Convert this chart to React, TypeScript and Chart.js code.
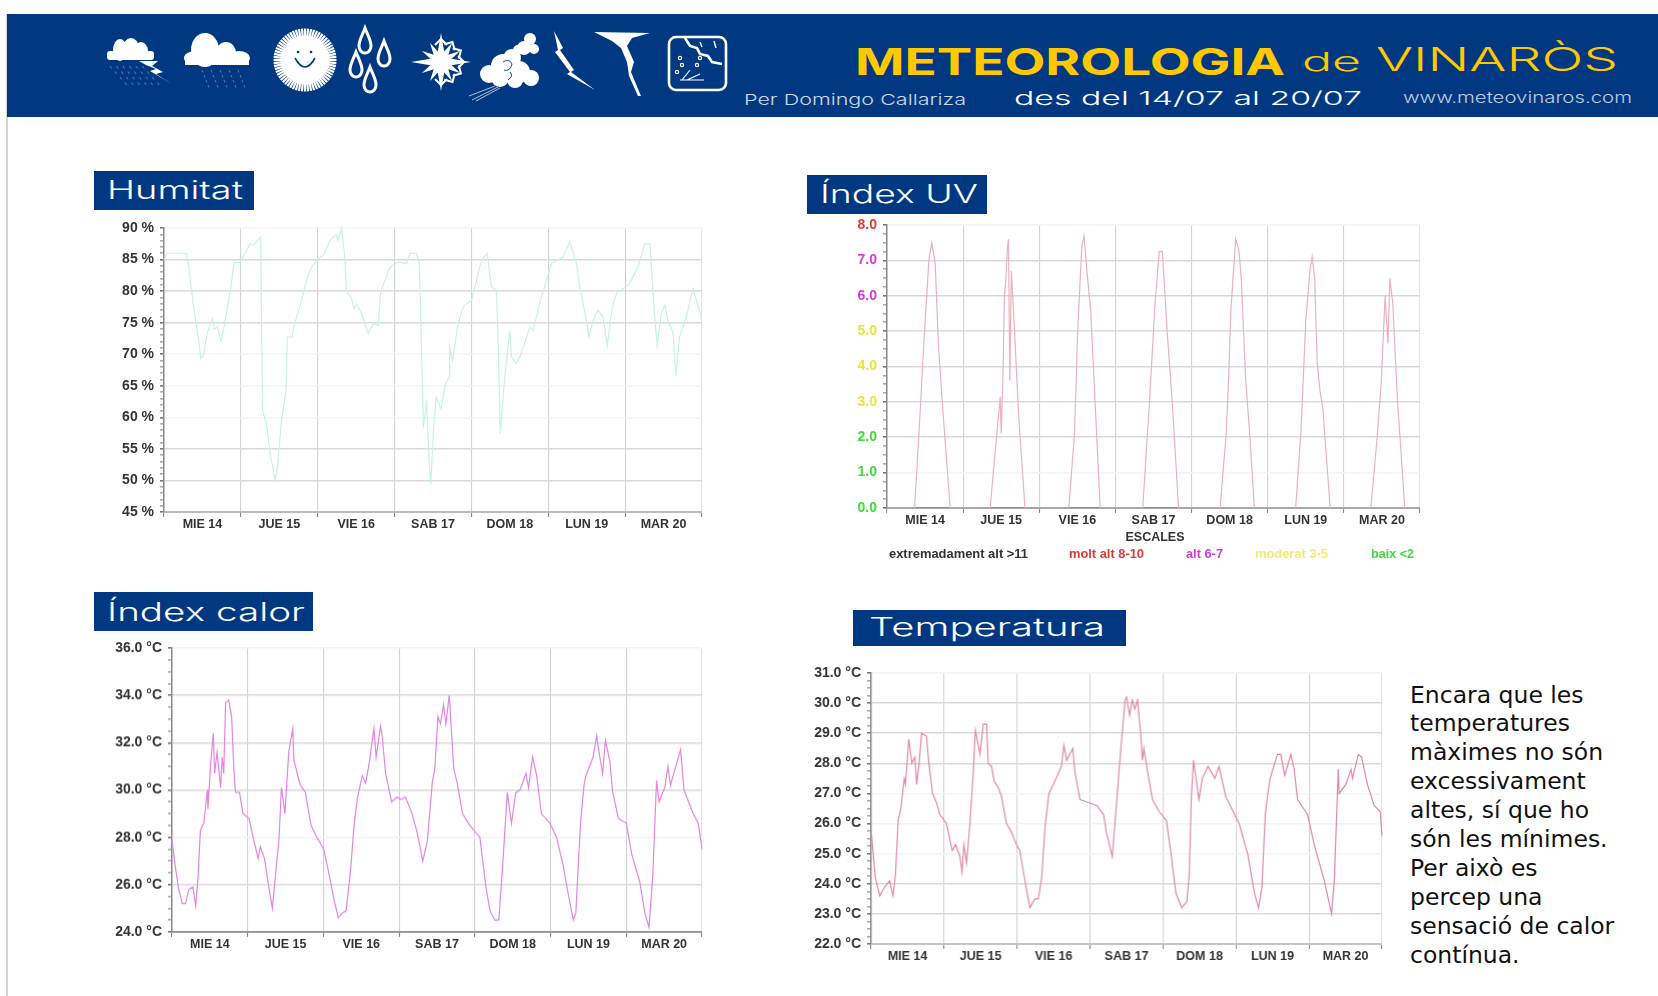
import React, { useEffect, useRef } from "react";
import { Chart, registerables } from "chart.js";

Chart.register(...registerables);

const dayLabels = ["MIE 14", "JUE 15", "VIE 16", "SAB 17", "DOM 18", "LUN 19", "MAR 20"];

const humidityHours = [0,1,4,7,7.6,8.6,9.7,10.7,11.5,12.3,13.5,15.1,15.7,16.7,17.8,19,20.8,21.9,23.7,25.3,26.9,28,28.9,30.2,30.5,30.8,32,33,34.7,35.4,36.7,38.1,38.5,39.9,40.9,43,44.2,45.6,47.7,49.8,51.8,53.9,54.4,55.5,56.5,57,58.6,59.3,60.2,61.7,63.8,65.4,66.9,67.7,70.6,73.2,75.8,76.8,78.9,79.7,80.2,81,82,82.6,83.3,84.2,85,86.5,87.9,89.1,89.2,90.1,91.8,93.4,96,97.6,99.1,100.9,102.2,103.8,104.3,105,106.4,108,108.5,110,111.6,114.2,115.3,117.3,119.4,121,124.6,126.7,128.8,129.8,131.9,132.7,134,135.5,137.1,138.4,140,141.3,145.4,148,150.1,151.7,153.3,154,155.3,156.4,157.4,159,159.8,161,163.1,165.2,167.8];
const humidityValues = [85,86,86,86,84.4,80,76,72.7,69.3,69.8,73.3,75.6,74,74.3,72,75,80.4,84.6,84.5,86,87.5,87.3,87.8,88.6,72.7,61,59,54.7,50,52,59.5,64.3,72.7,72.7,75,78.5,81.2,83.3,85,85.7,88,89,88,90,85,80,78.8,77.2,78,76.4,73.3,74.8,74.6,80,83.8,84.6,84.4,86,86,84.4,75.4,58.4,62.7,54.7,49.4,58.4,63.2,61.3,65.3,66.4,71.1,69,74.8,77.5,78.5,81.7,84.9,86,80.7,80.1,72.7,57.4,66.4,73.8,69.6,68.5,70.1,74.3,73.8,78,81.7,84.4,85.4,87.8,84.4,80.7,75.4,72.7,75.4,77,75.9,71.4,77.5,79.6,81.2,83.8,87.5,87.5,75.4,71.4,76.4,77.8,75.4,73.3,66.6,72.7,75.9,80.4,75.9];
const humidityGrid = [85, 80, 75, 55, 50];

const uvHours = [8.7,10,11.9,13.2,14.1,15.2,16.2,17.3,18.4,19.9,25,32.5,33.8,35.7,36,36.6,37,37.4,38,38.3,38.7,39.2,40.2,41.5,43.5,50,57.3,59.1,60.1,61.4,62.1,63,64.2,65.5,67.2,75,80.6,82.6,84.5,85.8,86.8,88.3,89.9,91.9,98,105,106.9,107.6,108.4,109.9,110.9,111.7,113,114.4,115.8,122,128.8,130.5,132,133.3,134,134.8,135.6,136.5,137.4,138.4,139.7,146,152.5,154.5,155.8,157,157.9,158.5,159.4,160.9,163.2];
const uvValues = [0,2,5.1,7,7.5,6.9,4.6,3.15,1.8,0,null,0,1.3,3.15,2.1,3.9,6,6.4,7.4,7.6,3.6,6.7,5,2.6,0,null,0,2.1,5,7.4,7.7,6.7,5.6,3.15,0,null,0,2.8,5.8,7.25,7.25,5,3,0,null,0,2.1,3.5,5.6,7.6,7.3,6.45,3.7,2,0,null,0,2.2,5.3,6.7,7.1,6.5,4.1,3.3,2.8,1.55,0,null,0,2,3.6,6,4.65,6.5,5.8,3.05,0];
const uvBaseHours = [8.7,19.9,null,32.5,43.5,null,57.3,67.2,null,80.6,91.9,null,105,115.8,null,128.8,139.7,null,152.5,163.2];
const uvGrid = [7, 6, 5, 4, 3, 2];

const heatHours = [0,0.9,2,3.2,4.3,5.3,6.6,7.5,8.2,9,10.1,11.2,11.4,12.2,13.1,13.5,14.3,15.4,15.9,16.4,17,18,18.9,19.6,20.1,21.4,22.5,24.4,25.9,27.3,28,29.3,30.7,31.8,32.8,33.9,34.7,35.8,37,38.3,38.6,39.7,40.7,42.3,43,44.1,45.5,48.1,49.7,51.3,52.7,54,55.2,56.6,57.7,58.7,60.3,61.4,62.6,64,64.7,66.1,66.6,67.7,69.6,71.4,72.5,74,76.1,77.7,79.5,80.9,82.5,83.3,84.3,85.1,86.1,86.8,87.9,88.8,89.3,90.4,92.1,94.4,97.6,99.5,100.8,102.3,103.6,104.8,106.3,107.6,109,110.3,112.2,113,114.3,115.6,117.1,119.8,121.9,124,125.6,127.2,128,129.5,130.6,131.2,133.5,134.6,135.1,136.5,137.4,138.8,139.7,141.5,144,145.7,148.3,149.9,151.2,152.4,153.6,154.4,156.2,157.2,158,159.7,161.2,162.3,165.2,166.8,168];
const heatValues = [27.9,26.9,25.9,25.2,25.2,25.8,25.9,25.1,26.2,28.3,28.6,30,29.2,31,32.4,30.7,31.6,30.1,31.4,30.7,33.7,33.8,33.1,30.9,29.9,29.9,29,28.8,27.9,27.1,27.6,27.1,25.9,25,26.4,27.9,30.1,29,31.6,32.6,31.3,30.7,30.2,29.9,29.3,28.5,28.1,27.5,26.5,25.4,24.6,24.8,24.9,26.6,28.5,29.6,30.6,30.3,31.2,32.6,31.4,32.7,32.3,30.7,29.5,29.7,29.6,29.7,29,28.2,27,27.8,30.3,30.9,33.1,32.8,33.6,32.8,34,32,30.9,30.3,29,28.5,28,25.9,24.9,24.5,24.5,26.8,29.9,28.6,29.9,30,30.7,30.1,31.4,30.6,29,28.6,28,26.8,25.6,24.5,24.8,28.6,30.2,30.6,31.4,32.3,31.8,30.7,32.1,31.2,29.9,28.8,28.6,27.3,26.1,24.8,24.2,26.4,30.4,29.5,30.1,31,30.2,31,31.7,30,29,28.6,27.5];
const heatGrid = [34, 32, 30, 26];

const tempHours = [0,0.7,1.4,2.9,4.5,6.1,7.2,8,8.9,9.8,10.9,11.3,12.4,13.4,14.4,15,15.8,16.6,18.2,19,20.2,21.5,22.6,24.8,26.7,27.8,29.2,29.9,30.5,31.4,32.5,33.6,34.3,35.8,36.9,38,38.5,39.6,40.5,41.8,42.9,44.5,46.2,47.8,48.9,50.6,52.2,53.9,55,56.1,57.2,58.5,60.4,62.6,63.4,64.3,66.3,67,68.7,71.4,74.2,76.4,77.4,79.3,80.4,81.8,83.5,84,85,85.9,86.7,87.6,88.7,89.2,89.7,90.6,92.5,94.7,97.1,98.5,100.2,102.1,103.8,104.6,105.3,106,107.8,108.9,110.8,113,114.4,116.6,121,123.8,126,127.4,128.5,129.6,130.3,131.2,133.6,134.7,136,138,139.1,140.2,143.5,145.7,149,151.4,152.3,153.6,153.9,156.1,157.8,158.3,160.2,161.3,163.2,165.4,167.4,168];
const tempValues = [25.8,25,24.2,23.6,23.9,24.1,23.6,24.3,26.1,26.5,27.5,27.3,28.8,28,28.2,27.3,28,29,28.9,28,27,26.7,26.3,26,25.1,25.3,24.9,24.4,25.3,24.7,26,27.7,29.1,28.3,29.3,29.3,28,27.9,27.4,27.2,26.9,26,25.7,25.3,25.1,24.1,23.2,23.5,23.5,24.2,25.9,27,27.4,27.9,28.6,28.1,28.5,27.7,26.8,26.7,26.6,26.3,25.7,24.9,26.3,28.1,30.1,30.2,29.6,30.1,29.8,30.1,28.9,28.1,28.5,27.9,26.8,26.4,26.1,25.1,23.7,23.2,23.4,24.3,26.9,28.1,26.8,27.5,27.9,27.5,27.9,26.9,26,25,23.7,23.2,23.9,26.3,26.9,27.5,28.3,28.3,27.6,28.3,27.8,26.8,26.3,25.3,24.1,23,24.1,27.8,27,27.3,27.8,27.5,28.3,28.2,27.3,26.6,26.4,25.6];
const tempGrid = [30, 29, 28, 24, 23];

const uvTickColors = ["#3ddc3d", "#3ddc3d", "#3ddc3d", "#e6e63a", "#e6e63a", "#e6e63a", "#d63ad6", "#d63ad6", "#e03a3a"];

const commentLines = ["Encara que les", "temperatures", "màximes no són", "excessivament", "altes, sí que ho", "són les mínimes.", "Per això es", "percep una", "sensació de calor", "contínua."];

type PanelProps = {
  left: number; right: number; top: number; bottom: number; gutter: number;
  hours: number[]; values: (number | null)[]; color: string;
  min: number; max: number; minorStep: number; majorStep: number;
  gridValues: number[]; bottomAxisColor: string;
  format: (v: number) => string;
  tickColor?: (v: number) => string;
  baseHours?: (number | null)[];
};

function Panel(p: PanelProps) {
  const ref = useRef<HTMLCanvasElement>(null);
  const topPad = 12, rightPad = 10, xHeight = 30;
  const width = p.gutter + (p.right - p.left) + rightPad;
  const height = topPad + (p.bottom - p.top) + xHeight;
  useEffect(() => {
    const isMajor = (v: number) => {
      const r = Math.abs((v - p.min) / p.majorStep);
      return Math.abs(r - Math.round(r)) < 0.001;
    };
    const isDrawn = (v: number) => p.gridValues.some((g) => Math.abs(g - v) < 0.001);
    const datasets: any[] = [{
      data: p.hours.map((h, i) => ({ x: h, y: p.values[i] })),
      borderColor: p.color, borderWidth: 1.2, pointRadius: 0, tension: 0, spanGaps: false, clip: false,
    }];
    if (p.baseHours) {
      datasets.push({
        data: p.baseHours.map((h) => (h === null ? { x: NaN, y: null } : { x: h, y: 0 })),
        borderColor: "#777", borderWidth: 1, pointRadius: 0, spanGaps: false,
      });
    }
    const chart = new Chart(ref.current!, {
      type: "line",
      data: { datasets },
      options: {
        animation: false, responsive: false, parsing: false as any, normalized: false,
        layout: { padding: { top: topPad, right: rightPad, left: 0, bottom: 0 } },
        plugins: { legend: { display: false }, tooltip: { enabled: false }, title: { display: false } },
        scales: {
          x: {
            type: "linear", min: 0, max: 168,
            border: { color: p.bottomAxisColor, width: 2 },
            grid: {
              color: (c: any) => {
                const v = c.tick.value;
                if (v % 24 !== 0) return "rgba(0,0,0,0)";
                return v === 168 ? "#e4e4e4" : "#d2d2d2";
              },
              tickColor: (c: any) => (c.tick.value % 24 === 0 ? "#888" : "rgba(0,0,0,0)"),
              tickLength: 5, lineWidth: 1.1,
            },
            ticks: {
              stepSize: 12, autoSkip: false, maxRotation: 0, padding: 0,
              maxTicksLimit: 100,
              color: "#333", font: { family: "Liberation Sans", weight: "bold", size: 12.5 },
              callback: (v: any) => (v % 24 === 12 ? dayLabels[(v - 12) / 24] : ""),
            },
            afterFit: (s: any) => { s.height = xHeight; s.paddingLeft = 0; s.paddingRight = 0; },
          },
          y: {
            type: "linear", min: p.min, max: p.max,
            border: { color: "#8a8a8a", width: 1.5 },
            grid: {
              color: (c: any) => (isDrawn(c.tick.value) ? "#d9d9d9" : isMajor(c.tick.value) && c.tick.value !== p.min ? "#f4f4f4" : "rgba(0,0,0,0)"),
              tickColor: (c: any) => (isMajor(c.tick.value) ? "#777" : "#aaa"),
              tickLength: 4, lineWidth: 1.6,
            },
            ticks: {
              stepSize: p.minorStep, autoSkip: false, maxTicksLimit: 1000, padding: 6,
              color: (c: any) => (p.tickColor ? p.tickColor(c.tick.value) : "#333"),
              font: { family: "Liberation Sans", weight: "bold", size: 14 },
              callback: (v: any) => (isMajor(v) ? p.format(v) : ""),
            },
            afterFit: (s: any) => { s.width = p.gutter; s.paddingTop = 0; s.paddingBottom = 0; },
          },
        },
      },
    } as any);
    return () => chart.destroy();
  }, []);
  return (
    <canvas
      ref={ref}
      width={width}
      height={height}
      style={{
        position: "absolute", left: p.left - p.gutter, top: p.top - topPad,
        width, height, filter: "blur(0.6px)",
      }}
    />
  );
}

const thin = "Inter, Lato, sans-serif";

function Fit(props: { x: number; y: number; w: number; size: number; fill: string; weight?: number; family?: string; children: string }) {
  return (
    <text x={props.x} y={props.y} textLength={props.w} lengthAdjust="spacingAndGlyphs"
      fontSize={props.size} fill={props.fill} fontWeight={props.weight ?? 300} fontFamily={props.family ?? thin}>
      {props.children}
    </text>
  );
}

function drop(cx: number, cy: number) {
  return `M${cx} ${cy - 13} C${cx + 3} ${cy - 5} ${cx + 6} ${cy - 1} ${cx + 6} ${cy + 5} A6 7 0 1 1 ${cx - 6} ${cy + 5} C${cx - 6} ${cy - 1} ${cx - 3} ${cy - 5} ${cx} ${cy - 13}Z`;
}

function Icons() {
  const rays = [];
  for (let i = 0; i < 64; i++) {
    const a = (i / 64) * Math.PI * 2;
    rays.push(<line key={i} x1={305 + 24 * Math.cos(a)} y1={60 + 24 * Math.sin(a)} x2={305 + 31.5 * Math.cos(a)} y2={60 + 31.5 * Math.sin(a)} stroke="#fff" strokeWidth={2.2} />);
  }
  const flake = [];
  const cx = 441, cy = 62;
  for (let i = 0; i < 12; i++) {
    const a = (i / 12) * Math.PI * 2;
    const r = i % 6 === 0 ? 30 : i % 3 === 0 ? 29 : 22;
    const c = Math.cos(a), s = Math.sin(a);
    flake.push(<polygon key={i} fill="#fff" points={`${cx - 5 * s},${cy + 5 * c} ${cx + r * c},${cy + r * s} ${cx + 5 * s},${cy - 5 * c}`} />);
    if (c > -0.1) {
      const mx = cx + 17 * c, my = cy + 17 * s;
      flake.push(<path key={`b${i}`} d={`M${mx + 6 * s} ${my - 6 * c} L${mx + 6 * c} ${my + 6 * s} L${mx - 6 * s} ${my + 6 * c}`} fill="none" stroke="#fff" strokeWidth={2} />);
    }
  }
  const rainA = [];
  for (let r = 0; r < 4; r++) for (let c = 0; c < 6; c++) {
    const x = 110 + c * 6.5 + r * 5, y = 66 + r * 5.5;
    rainA.push(<line key={`${r}-${c}`} x1={x} y1={y} x2={x + 1.5} y2={y + 2.5} stroke="#7f98c4" strokeWidth={0.7} />);
  }
  const rainB = [];
  for (let r = 0; r < 4; r++) for (let c = 0; c < 5; c++) {
    const x = 202 + c * 9 + r * 2, y = 70 + r * 5;
    rainB.push(<line key={`${r}-${c}`} x1={x} y1={y} x2={x + 1} y2={y + 2.5} stroke="#7f98c4" strokeWidth={0.7} />);
  }
  return (
    <g>
      <g fill="#fff">
        <ellipse cx={120} cy={50} rx={7} ry={11} /><ellipse cx={131} cy={48} rx={8} ry={10} /><ellipse cx={141} cy={51} rx={7} ry={9} />
        <rect x={107} y={51} width={47} height={9} rx={3} />
        <polygon points="139,61 158,61 152,66 163,72 156,74 172,84 150,71 156,69 146,65" />
        <ellipse cx={205} cy={50} rx={14} ry={17} /><ellipse cx={226} cy={53} rx={10} ry={11} />
        <ellipse cx={196} cy={58} rx={12} ry={7} /><ellipse cx={239} cy={58} rx={11} ry={7} />
        <rect x={185} y={58} width={64} height={7} />
      </g>
      {rainA}{rainB}
      <circle cx={305} cy={60} r={24.5} fill="#fff" />{rays}
      <circle cx={298} cy={52} r={1.3} fill="#003882" /><circle cx={311} cy={52} r={1.3} fill="#003882" />
      <path d="M295 58 Q305 76 315 58" fill="none" stroke="#003882" strokeWidth={1.6} />
      <g fill="none" stroke="#fff" strokeWidth={3}>
        <path d={drop(365, 41)} /><path d={drop(384, 54)} /><path d={drop(356, 65)} /><path d={drop(370, 80)} />
      </g>
      {flake}
      <g fill="#fff">
        <circle cx={489} cy={74} r={9} /><circle cx={503} cy={66} r={12} /><circle cx={519} cy={72} r={11} /><circle cx={531} cy={78} r={8} />
        <circle cx={500} cy={78} r={9} /><circle cx={515} cy={80} r={8} /><circle cx={512} cy={58} r={9} />
        <circle cx={524} cy={48} r={7} /><circle cx={530} cy={39} r={6} /><circle cx={534} cy={49} r={5} /><circle cx={518} cy={50} r={5} />
      </g>
      <g stroke="#003882" strokeWidth={0.9} fill="none"><path d="M503 62 q6 -4 9 2 q-2 8 -8 6 M510 72 q4 4 -2 8" /></g>
      <g stroke="#dfe6f2" strokeWidth={0.8}>
        <line x1={495} y1={86} x2={469} y2={96} /><line x1={498} y1={87} x2={472} y2={100} /><line x1={500} y1={88} x2={476} y2={101} />
      </g>
      <polygon fill="#fff" points="554,31 563,48 560,50 574,70 571,72 595,90 567,74 570,72 555,52 558,50" />
      <path fill="#fff" d="M594 32 L650 33 L632 38 L627 46 L634 62 L631 72 L636 84 L641 96 L638 96 L629 76 L627 62 L621 48 L612 41 Z" />
      <g fill="none" stroke="#fff" strokeWidth={2.6}>
        <rect x={669} y={37} width={57} height={53} rx={7} />
        <path d="M685 38 L690 46 L697 48 L700 54 L708 56 L712 62 L722 64" />
        <path d="M700 42 L702 47 M714 41 L716 48" strokeWidth={1.4} />
      </g>
      <g fill="none" stroke="#fff" strokeWidth={1.2}>
        <circle cx={680} cy={58} r={1.6} /><circle cx={682} cy={65} r={1.6} /><circle cx={677} cy={72} r={1.6} /><circle cx={700} cy={58} r={1.6} /><circle cx={697} cy={65} r={1.6} />
        <path d="M682 80 L690 70 M687 80 L700 74 M680 80 L704 80" />
      </g>
    </g>
  );
}

function TitleBox(props: { x: number; y: number; w: number; h: number; tx: number; tw: number; by: number; size: number; text: string }) {
  return (
    <g>
      <rect x={props.x} y={props.y} width={props.w} height={props.h} fill="#003882" />
      <Fit x={props.tx} y={props.by} w={props.tw} size={props.size} fill="#fff">{props.text}</Fit>
    </g>
  );
}

export default function App() {
  return (
    <div style={{ position: "fixed", left: 0, top: 0, width: 1658, height: 996, background: "#fff", overflow: "hidden" }}>
      <svg width={1658} height={996} style={{ position: "absolute", left: 0, top: 0 }}>
        <rect x={6.5} y={14} width={1} height={982} fill="#a8a8a8" />
        <rect x={7} y={14} width={1651} height={103} fill="#003882" />
        <Icons />
        <Fit x={855} y={75} w={430} size={37} fill="#ffc800" weight={700}>METEOROLOGIA</Fit>
        <Fit x={1302} y={71} w={59} size={26} fill="#ffc800">de</Fit>
        <Fit x={1376} y={71} w={242} size={33} fill="#ffc800">VINARÒS</Fit>
        <Fit x={744} y={105} w={222} size={15} fill="#cfd8e8">Per Domingo Callariza</Fit>
        <Fit x={1014} y={105} w={348} size={19} fill="#ffffff">des del 14/07 al 20/07</Fit>
        <Fit x={1403} y={103} w={229} size={15} fill="#c0cce0">www.meteovinaros.com</Fit>

        <TitleBox x={94} y={171} w={160} h={39} tx={107} tw={136} by={199} size={25} text="Humitat" />
        <TitleBox x={807} y={175} w={180} h={39} tx={820} tw={158} by={203} size={25} text="Índex UV" />
        <TitleBox x={94} y={592} w={219} h={39} tx={107} tw={198} by={621} size={25} text="Índex calor" />
        <TitleBox x={853} y={610} w={273} h={36} tx={869} tw={236} by={636} size={25} text="Temperatura" />

        <g fontFamily="'DejaVu Sans'" fontSize={23.5} fill="#111">
          {commentLines.map((line, i) => (
            <text key={i} x={1410} y={702.5 + i * 28.9}>{line}</text>
          ))}
        </g>

        <g fontFamily="'Liberation Sans'" fontWeight={700} fontSize={12.5} style={{ filter: "blur(0.5px)" }}>
          <text x={1155} y={541} textAnchor="middle" fill="#333">ESCALES</text>
          <Fit x={889} y={558} w={139} size={12} weight={700} family="'Liberation Sans'" fill="#333">extremadament alt &gt;11</Fit>
          <Fit x={1069} y={558} w={75} size={12} weight={700} family="'Liberation Sans'" fill="#e03a3a">molt alt 8-10</Fit>
          <Fit x={1186} y={558} w={37} size={12} weight={700} family="'Liberation Sans'" fill="#d63ad6">alt 6-7</Fit>
          <Fit x={1255} y={558} w={73} size={12} weight={700} family="'Liberation Sans'" fill="#eded70">moderat 3-5</Fit>
          <Fit x={1371} y={558} w={43} size={12} weight={700} family="'Liberation Sans'" fill="#3ddc3d">baix &lt;2</Fit>
        </g>
      </svg>

      <Panel left={164} right={702} top={228} bottom={512} gutter={50} hours={humidityHours} values={humidityValues}
        color="#c8f1e5" min={45} max={90} minorStep={1} majorStep={5} gridValues={humidityGrid} bottomAxisColor="#bcbcbc" format={(v) => `${v} %`} />
      <Panel left={886.5} right={1420} top={225} bottom={508} gutter={50} hours={uvHours} values={uvValues}
        color="#eeb0be" min={0} max={8} minorStep={0.25} majorStep={1} gridValues={uvGrid} bottomAxisColor="#a8a8a8" format={(v) => v.toFixed(1)}
        tickColor={(v) => uvTickColors[Math.round(v)] ?? "rgba(0,0,0,0)"} baseHours={uvBaseHours} />
      <Panel left={171.5} right={701.6} top={648.3} bottom={931.7} gutter={65} hours={heatHours} values={heatValues}
        color="#e484e4" min={24} max={36} minorStep={0.5} majorStep={2} gridValues={heatGrid} bottomAxisColor="#9a9a9a" format={(v) => `${v.toFixed(1)} °C`} />
      <Panel left={871.4} right={1381.6} top={672.7} bottom={944.3} gutter={60} hours={tempHours} values={tempValues}
        color="#e08aa0" min={22} max={31} minorStep={0.25} majorStep={1} gridValues={tempGrid} bottomAxisColor="#c4c4c4" format={(v) => `${v.toFixed(1)} °C`} />
    </div>
  );
}
